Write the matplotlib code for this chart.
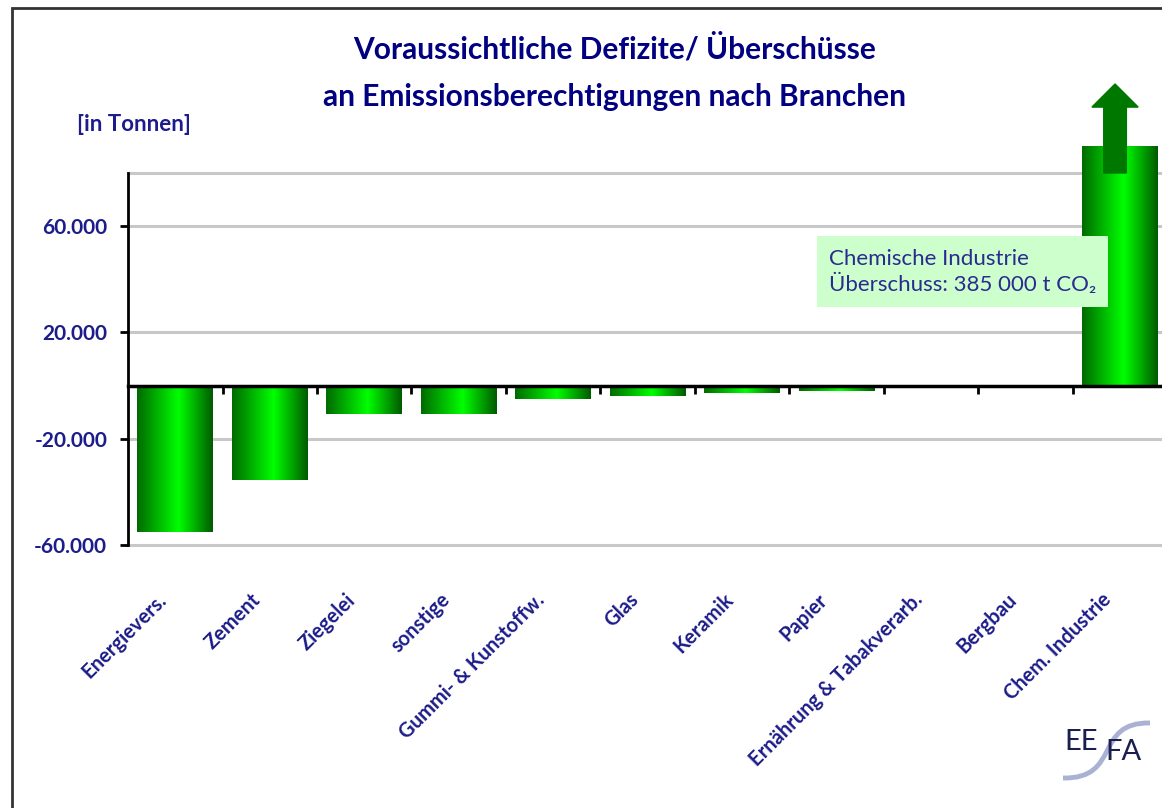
import numpy as np
import matplotlib
matplotlib.use('Agg')
from matplotlib import pyplot as plt
from matplotlib.colors import LinearSegmentedColormap
from matplotlib.patches import Rectangle, PathPatch
from matplotlib.path import Path

# data (t CO2, deficits negative)
branchen=['Energievers.','Zement','Ziegelei','sonstige','Gummi- & Kunstoffw.',
          'Glas','Keramik','Papier','Ernährung & Tabakverarb.','Bergbau','Chem. Industrie']
werte=[-55100,-35500,-10800,-10800,-5100,-3800,-2800,-2000,0,0,385000]
chem_ueberschuss=385000
anzeige_max=90000   # chem bar is cut off here, arrow marks the rest
ytick_werte=[-60000,-20000,20000,60000]
ytick_labels=['-60.000','-20.000','20.000','60.000']
grid_werte=[-60000,-20000,20000,60000,80000]

navy='#000080'
txt='#1c1c8a'
plt.rcParams['font.family']=['Lato','DejaVu Sans']

fig=plt.figure(figsize=(11.62,8.08),dpi=100)
ax=fig.add_axes([0.1102,0.3255,0.8941,0.4604])

x=np.arange(len(branchen))
hoehen=[min(w,anzeige_max) for w in werte]
bars=ax.bar(x,hoehen,width=0.8,color='none',edgecolor='none',zorder=2,clip_on=False)

cmap=LinearSegmentedColormap.from_list('bar',[(0,'#006a00'),(0.55,'#00ff00'),(1,'#005a00')])
grad=np.linspace(0,1,256).reshape(1,-1)
for b in bars:
    if b.get_height()==0:
        continue
    x0=b.get_x()
    y0,y1=sorted([0,b.get_height()])
    im=ax.imshow(grad,cmap=cmap,extent=[x0,x0+b.get_width(),y0,y1],
                 aspect='auto',zorder=2,interpolation='bicubic')
    im.set_clip_path(b)

for g in grid_werte:
    ax.axhline(g,color='#c8c8c8',lw=2.2,zorder=0,clip_on=False)

ax.set_xlim(-0.5,len(branchen)-0.5)
ax.set_ylim(-60000,80000)

ax.set_yticks(ytick_werte,ytick_labels)
ax.tick_params(axis='y',length=6,width=2,pad=9,labelsize=15,labelcolor=txt,color='black')
for lab in ax.get_yticklabels():
    lab.set_fontweight('bold')

ax.spines['bottom'].set_position(('data',0))
ax.spines['bottom'].set_linewidth(2.5)
ax.spines['left'].set_linewidth(2)
ax.spines['top'].set_visible(False)
ax.spines['right'].set_visible(False)
ax.set_xticks(x[:-1]+0.5,['']*(len(branchen)-1))
ax.tick_params(axis='x',length=6,width=2,color='black')

for i,name in enumerate(branchen):
    ax.text(i-0.2,-0.12,name,transform=ax.get_xaxis_transform(),rotation=45,
            rotation_mode='anchor',ha='right',va='top',fontsize=14.5,
            fontweight='bold',color=txt)

# arrow on the cut-off bar
ax.arrow(x[-1]-0.05,80000,0,33500,width=0.24,head_width=0.49,head_length=8700,
         length_includes_head=True,color='#007800',zorder=4,clip_on=False)

ax.text(6.92,42800,'Chemische Industrie\nÜberschuss: %s t CO₂'%format(chem_ueberschuss,',').replace(',',' '),
        fontsize=16,color='#2a2a90',va='center',ha='left',linespacing=1.3,zorder=5,
        bbox=dict(boxstyle='square,pad=0.55',fc='#ccffcc',ec='none'))

fig.text(0.529,0.94,'Voraussichtliche Defizite/ Überschüsse',ha='center',va='center',
         fontsize=21.5,fontweight='bold',color=navy)
fig.text(0.529,0.88,'an Emissionsberechtigungen nach Branchen',ha='center',va='center',
         fontsize=21.5,fontweight='bold',color=navy)
fig.text(0.066,0.846,'[in Tonnen]',ha='left',va='center',fontsize=16,fontweight='bold',color=txt)

# outer frame
fig.patches.append(Rectangle((12/1162,-0.05),1.2,1-8/808+0.05,transform=fig.transFigure,
                             fill=False,ec='#333333',lw=2))

# EEFA logo
sw=Path([(1063/1162,1-778/808),(1122/1162,1-779/808),(1093/1162,1-722/808),(1150/1162,1-723/808)],
        [Path.MOVETO,Path.CURVE4,Path.CURVE4,Path.CURVE4])
fig.patches.append(PathPatch(sw,transform=fig.transFigure,fill=False,ec='#aab2d4',lw=3.5))
fig.text(1064/1162,1-742/808,'EE',fontsize=21,color='#1b1f4f',va='center',ha='left')
fig.text(1105/1162,1-752/808,'FA',fontsize=21,color='#1b1f4f',va='center',ha='left')

fig.savefig('out.png',dpi=100,facecolor='white')
